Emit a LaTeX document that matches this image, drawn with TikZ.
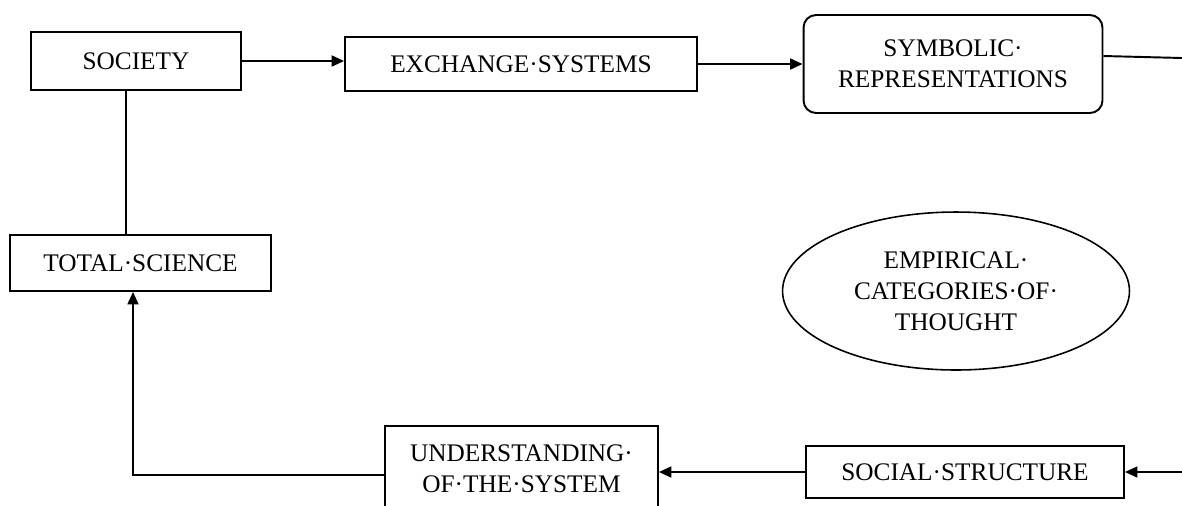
\documentclass[tikz,border=0pt]{standalone}
\usepackage{fontspec}
\setmainfont{Liberation Serif}
\usetikzlibrary{shapes.geometric,arrows.meta}
\begin{document}
\begin{tikzpicture}[x=0.02cm,y=-0.02cm,
    box/.style={draw,line width=1.1pt,align=center,font=\fontsize{14.4}{17.6}\selectfont},
    link/.style={line width=1.1pt},
    >={Triangle[length=0.25cm,width=0.22cm]}]
    \useasboundingbox (0,0) rectangle (1182,505);
    \clip (0,0) rectangle (1182,505);
    % top row
    \node[box,minimum width=4.2cm,minimum height=1.16cm] (society) at (136,61) {SOCIETY};
    \node[box,minimum width=7.04cm,minimum height=1.08cm] (exchange) at (521,64) {EXCHANGE·SYSTEMS};
    \node[box,rounded corners=0.25cm,minimum width=5.98cm,minimum height=1.96cm] (symbolic) at (953,64) {SYMBOLIC·\\REPRESENTATIONS};
    \coordinate (outtop) at (1182,58);
    % left and middle
    \node[box,minimum width=5.22cm,minimum height=1.12cm] (total) at (140.5,263) {TOTAL·SCIENCE};
    \node[box,ellipse,line width=0.9pt,minimum width=6.94cm,minimum height=3.16cm] (empirical) at (956,291) {EMPIRICAL·\\CATEGORIES·OF·\\THOUGHT};
    % bottom row
    \node[box,minimum width=5.46cm,minimum height=1.72cm] (understanding) at (521.5,469) {UNDERSTANDING·\\OF·THE·SYSTEM};
    \node[box,minimum width=6.36cm,minimum height=1.04cm] (social) at (965,472) {SOCIAL·STRUCTURE};
    \coordinate (inbottom) at (1182,472);
    % connectors
    \draw[->,link] (society.east) -- (society.east -| exchange.west);
    \draw[->,link] (exchange.east) -- (exchange.east -| symbolic.west);
    \draw[link] ([yshift=0.16cm]symbolic.east) -- (outtop);
    \draw[link] ([xshift=-0.2cm]society.south) -- ([xshift=-0.2cm]society.south |- total.north);
    \draw[->,link] ([yshift=-0.12cm]understanding.west) -| ([xshift=-0.15cm]total.south);
    \draw[->,link] (social.west) -- (social.west -| understanding.east);
    \draw[->,link] (inbottom) -- (social.east);
\end{tikzpicture}
\end{document}
